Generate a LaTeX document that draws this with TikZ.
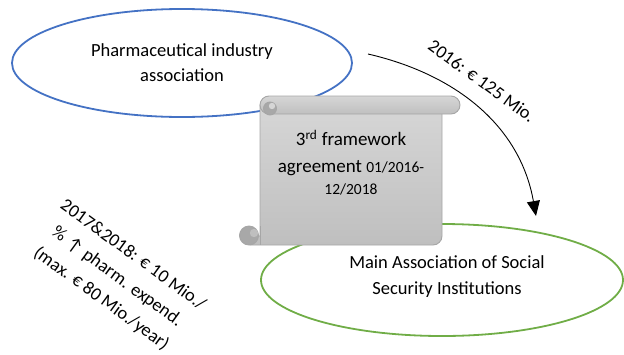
\documentclass[tikz,border=0pt]{standalone}
\usepackage{fontspec}
\setmainfont{Carlito}
\usetikzlibrary{arrows.meta}
\definecolor{blueline}{HTML}{4472C4}
\definecolor{greenline}{HTML}{70AD47}
\definecolor{scrolltop}{HTML}{D6D6D6}
\definecolor{scrollbot}{HTML}{BFBFBF}
\definecolor{scrolledge}{HTML}{A6A6A6}
\definecolor{curl}{HTML}{A8A8A8}
\tikzset{
  ovaltext/.style={align=center, font=\fontsize{18.5}{25}\selectfont},
  scrollpart/.style={draw=scrolledge, line width=0.9pt, top color=scrolltop, bottom color=scrollbot},
  curlpart/.style={draw=scrolledge, line width=0.9pt, fill=curl},
  rottext/.style={align=center, font=\fontsize{18.3}{27}\selectfont, rotate=-36},
}
\begin{document}
\begin{tikzpicture}[x=1pt,y=-1pt]
\useasboundingbox (0,0) rectangle (624,354);
% ellipses
\draw[blueline, line width=1.8pt] (182,63) ellipse [x radius=170, y radius=54];
\node[ovaltext] (pharma) at (182,62.5) {Pharmaceutical industry\\association};
\draw[greenline, line width=1.8pt] (442,280) ellipse [x radius=181, y radius=56];
\node[ovaltext, font=\fontsize{18.5}{26}\selectfont] (main) at (447,277) {Main Association of Social\\Security Institutions};
% scroll
\path[scrollpart] (260,105) -- (442,105) [rounded corners=9pt] -- (442,245) [sharp corners] -- (250,245) -- (250,236) -- (260,236) -- cycle;
\path[scrollpart, rounded corners=9pt] (260,96) rectangle (460,114);
\path[curlpart] (270,108.5) circle[radius=6.5];
\path[fill=scrolltop] (272,106) circle[radius=3.2];
\path[curlpart] (249,235.5) circle[radius=9.5];
\path[fill=scrollbot] (254,233) circle[radius=4.2];
\draw[scrolledge, line width=0.9pt] (260,226) -- (260,245);
\node[align=center, font=\fontsize{19}{27}\selectfont] (agreement) at (351,163) {3\textsuperscript{rd} framework\\agreement {\fontsize{15.5}{22}\selectfont 01/2016-}\\[-5pt]{\fontsize{15.5}{20}\selectfont 12/2018}};
% arrow
\coordinate (arrowstart) at (368,54);
\coordinate (arrowend) at (536,216);
\draw[line width=0.9pt, -{Triangle[length=15pt, width=13pt]}] (arrowstart) to[out=-13, in=100] (arrowend);
\node[rottext] (paylabel) at (482,81) {2016: € 125 Mio.};
\node[rottext] (yearlabel) at (117,277) {2017\&2018: € 10 Mio./\\\% ↑ pharm. expend.\\(max. € 80 Mio./year)};
\end{tikzpicture}
\end{document}
